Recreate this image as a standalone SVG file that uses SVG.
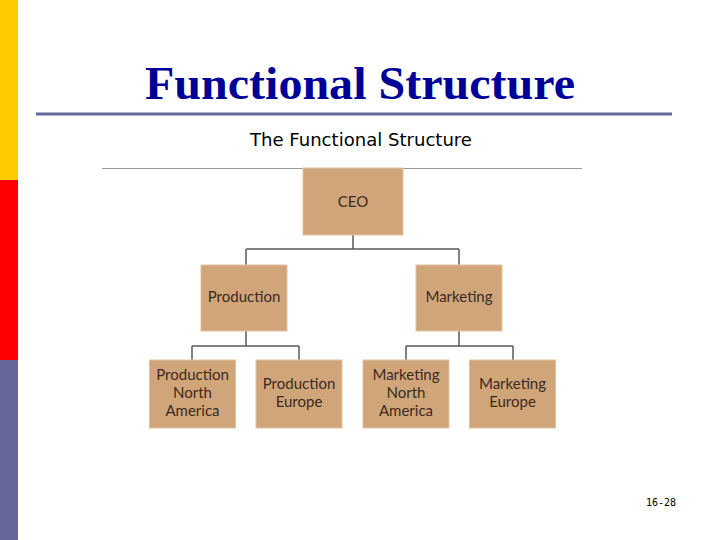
<svg xmlns="http://www.w3.org/2000/svg" width="720" height="540" viewBox="0 0 720 540">
<style>
.box{fill:#d1a57a;stroke:#e2c2a2;stroke-width:1}
.lbl{font-family:Lato,"Open Sans",sans-serif;font-size:15px;fill:#3a2a20;text-anchor:middle}
.conn{stroke:#5a5a5a;stroke-width:1.5;fill:none}
</style>
<rect width="720" height="540" fill="#ffffff"/>
<rect x="0" y="0" width="18" height="180" fill="#ffcc00"/>
<rect x="0" y="180" width="18" height="180" fill="#ff0000"/>
<rect x="0" y="360" width="18" height="180" fill="#666699"/>
<text x="360" y="99" font-family="Liberation Serif,serif" font-weight="bold" font-size="46" fill="#000099" text-anchor="middle" textLength="430" lengthAdjust="spacingAndGlyphs">Functional Structure</text>
<line x1="36" y1="114" x2="672" y2="114" stroke="#666699" stroke-width="3"/>
<text x="361" y="146" font-family="DejaVu Sans,sans-serif" font-size="17" fill="#000" text-anchor="middle" textLength="222" lengthAdjust="spacingAndGlyphs">The Functional Structure</text>
<line x1="102" y1="168.5" x2="582" y2="168.5" stroke="#999" stroke-width="1"/>
<g id="connectors">
<path class="conn" d="M353 235V249M246 249H459M246 249V265M459 249V265"/>
<path class="conn" d="M246 331V346M192 346H299M192 346V360M299 346V360"/>
<path class="conn" d="M459 331V346M406 346H513M406 346V360M513 346V360"/>
</g>
<g id="ceo"><rect class="box" x="303" y="168" width="100" height="67"/><text class="lbl" x="353" y="207">CEO</text></g>
<g id="production"><rect class="box" x="201" y="265" width="86" height="66"/><text class="lbl" x="244" y="302">Production</text></g>
<g id="marketing"><rect class="box" x="416" y="265" width="86" height="66"/><text class="lbl" x="459" y="302">Marketing</text></g>
<g id="prod-na"><rect class="box" x="149.5" y="360" width="86" height="68"/><text class="lbl" x="192.5" y="380">Production</text><text class="lbl" x="192.5" y="398">North</text><text class="lbl" x="192.5" y="416">America</text></g>
<g id="prod-eu"><rect class="box" x="256" y="360" width="86" height="68"/><text class="lbl" x="299" y="389">Production</text><text class="lbl" x="299" y="407">Europe</text></g>
<g id="mkt-na"><rect class="box" x="363" y="360" width="86" height="68"/><text class="lbl" x="406" y="380">Marketing</text><text class="lbl" x="406" y="398">North</text><text class="lbl" x="406" y="416">America</text></g>
<g id="mkt-eu"><rect class="box" x="469.5" y="360" width="86" height="68"/><text class="lbl" x="512.5" y="389">Marketing</text><text class="lbl" x="512.5" y="407">Europe</text></g>
<text x="661" y="506" font-family="DejaVu Sans Mono,monospace" font-size="10" fill="#000" text-anchor="middle">16-28</text>
</svg>
